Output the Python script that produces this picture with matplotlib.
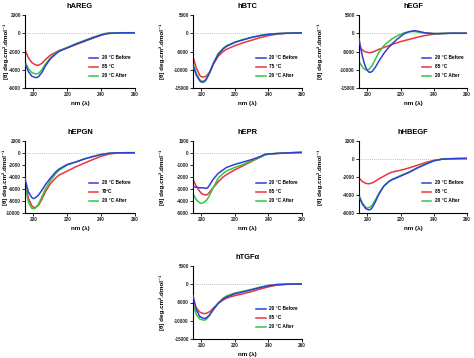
import matplotlib
matplotlib.use("Agg")
import matplotlib.pyplot as plt

plt.rcParams['font.family'] = ['Liberation Sans', 'DejaVu Sans']
plt.rcParams['font.weight'] = 'bold'
plt.rcParams['axes.unicode_minus'] = False

BLUE = '#2f3fd6'
RED = '#e8353c'
GREEN = '#33c63f'

# ---------------- data ----------------
areg_x = [195, 197, 199, 201, 202, 203, 205, 207, 210, 213, 215, 220, 225, 230, 235, 240, 243, 245, 250, 255, 260]
areg_before = [-3300, -4200, -4700, -4850, -4850, -4750, -4300, -3600, -2800, -2300, -2000, -1600, -1200, -850, -500, -200, -50, 0, 30, 50, 50]
areg_heat = [-1800, -2700, -3200, -3450, -3500, -3500, -3300, -2900, -2400, -2100, -1900, -1600, -1250, -900, -550, -200, -60, -20, 30, 50, 50]
areg_after = [-3100, -3900, -4300, -4450, -4450, -4400, -4000, -3400, -2700, -2200, -1950, -1550, -1150, -800, -450, -150, 0, 20, 50, 60, 60]

btc_x = [195, 197, 199, 200, 201, 202, 203, 205, 207, 210, 213, 215, 220, 225, 230, 235, 240, 245, 250, 255, 260]
btc_before = [-8800, -11500, -13000, -13400, -13400, -13200, -12600, -10800, -8500, -5800, -4300, -3600, -2500, -1800, -1150, -650, -300, -100, 0, 50, 100]
btc_heat = [-6500, -9500, -11500, -11900, -12000, -11900, -11700, -10500, -8600, -6300, -5000, -4400, -3400, -2600, -1900, -1200, -650, -250, -50, 50, 100]
btc_after = [-8300, -11000, -12700, -13100, -13100, -12900, -12400, -10600, -8300, -5600, -4100, -3400, -2400, -1700, -1100, -600, -280, -90, 0, 50, 100]

egf_x = [195, 196, 197, 198, 199, 200, 201, 202, 203, 205, 207, 210, 213, 215, 218, 220, 222, 225, 228, 230, 233, 235, 240, 245, 250, 255, 260]
egf_before = [-1500, -4000, -6200, -8000, -9300, -10200, -10650, -10700, -10400, -9200, -7600, -5500, -3800, -2900, -1600, -900, -200, 400, 700, 600, 300, 100, -100, -100, 0, 0, 0]
egf_heat = [-3500, -4100, -4600, -4900, -5100, -5250, -5300, -5300, -5200, -4800, -4400, -3900, -3400, -3000, -2600, -2300, -2050, -1700, -1350, -1100, -800, -600, -250, -50, 0, 0, 0]
egf_after = [-7600, -8500, -9200, -9700, -10000, -10100, -9900, -9400, -8800, -7000, -5200, -3400, -2200, -1500, -700, -300, 100, 400, 500, 350, 150, 50, -50, -50, 0, 0, 0]

epgn_x = [195, 197, 199, 200, 201, 203, 205, 207, 210, 213, 215, 220, 225, 230, 235, 240, 245, 250, 255, 260]
epgn_before = [-4300, -6500, -7400, -7600, -7500, -7000, -6200, -5300, -4200, -3200, -2700, -1900, -1500, -1000, -600, -250, -30, 30, 50, 50]
epgn_heat = [-4600, -7500, -8800, -9050, -9100, -8700, -7700, -6500, -5100, -4200, -3700, -3000, -2300, -1700, -1100, -550, -150, 0, 30, 50]
epgn_after = [-5200, -8200, -9200, -9300, -9200, -8500, -7300, -6000, -4600, -3500, -2900, -2000, -1500, -1000, -600, -250, -30, 30, 50, 50]

epr_x = [195, 197, 199, 200, 201, 203, 204, 205, 207, 210, 213, 215, 220, 225, 230, 235, 238, 240, 245, 250, 255, 260]
epr_before = [-2800, -2850, -2900, -2900, -2900, -2950, -2850, -2650, -2200, -1700, -1400, -1200, -950, -750, -550, -300, -100, -80, -30, 0, 30, 50]
epr_heat = [-2200, -2800, -3200, -3350, -3450, -3500, -3400, -3250, -2900, -2400, -2000, -1800, -1400, -1050, -700, -350, -150, -100, -40, 0, 30, 50]
epr_after = [-3400, -3900, -4150, -4200, -4150, -3950, -3750, -3500, -2900, -2100, -1700, -1500, -1200, -950, -650, -350, -150, -100, -40, 0, 30, 50]

hbegf_x = [195, 197, 199, 200, 201, 202, 203, 205, 207, 210, 213, 215, 220, 225, 230, 235, 240, 245, 250, 255, 260]
hbegf_before = [-4200, -5000, -5500, -5600, -5650, -5600, -5400, -4700, -3900, -3000, -2500, -2300, -1900, -1500, -1000, -600, -200, -20, 30, 50, 60]
hbegf_heat = [-2100, -2500, -2700, -2740, -2750, -2700, -2650, -2450, -2200, -1900, -1600, -1450, -1250, -1000, -700, -400, -150, -20, 30, 50, 60]
hbegf_after = [-4000, -4900, -5350, -5450, -5400, -5300, -5100, -4500, -3800, -3000, -2500, -2250, -1850, -1450, -1000, -550, -200, -20, 30, 50, 60]

tgf_x = [195, 197, 199, 201, 202, 203, 205, 207, 210, 213, 215, 220, 225, 230, 235, 240, 245, 250, 255, 260]
tgf_before = [-3100, -7000, -8800, -9300, -9350, -9200, -8300, -7000, -5300, -4000, -3500, -2600, -2100, -1500, -900, -400, -100, 0, 50, 100]
tgf_heat = [-4500, -6500, -7600, -8000, -8050, -7950, -7500, -6600, -5200, -4300, -3800, -3100, -2600, -2000, -1300, -700, -250, -50, 50, 100]
tgf_after = [-5500, -8300, -9500, -9800, -9800, -9600, -8500, -7000, -5100, -3800, -3200, -2400, -1900, -1400, -800, -300, -50, 0, 50, 100]

x_ticks = [200, 220, 240, 260]

panels = [
    # title, x, before, heat, after, heat label, ylim(top,bottom), yticks, rect, ylabel right edge (px)
    ('hAREG', areg_x, areg_before, areg_heat, areg_after, '85 °C', (2000, -6000), [2000, 0, -2000, -4000, -6000], (25, 15, 110, 73), 9),
    ('hBTC', btc_x, btc_before, btc_heat, btc_after, '75 °C', (5000, -15000), [5000, 0, -5000, -10000, -15000], (193, 15, 109, 73), 165),
    ('hEGF', egf_x, egf_before, egf_heat, egf_after, '85 °C', (5000, -15000), [5000, 0, -5000, -10000, -15000], (359, 15, 108, 73), 323),
    ('hEPGN', epgn_x, epgn_before, epgn_heat, epgn_after, '70ºC', (2000, -10000), [2000, 0, -2000, -4000, -6000, -8000, -10000], (25, 141, 110, 72), 8.5),
    ('hEPR', epr_x, epr_before, epr_heat, epr_after, '85 °C', (1000, -5000), [1000, 0, -1000, -2000, -3000, -4000, -5000], (193, 141, 109, 72), 165),
    ('hHBEGF', hbegf_x, hbegf_before, hbegf_heat, hbegf_after, '85 °C', (2000, -6000), [2000, 0, -2000, -4000, -6000], (359, 141, 108, 72), 323),
    ('hTGFα', tgf_x, tgf_before, tgf_heat, tgf_after, '85 °C', (5000, -15000), [5000, 0, -5000, -10000, -15000], (193, 266, 109, 73), 165),
]

W, H = 474, 358
fig = plt.figure(figsize=(W / 100, H / 100), dpi=100)

for title, x, before, heat, after, hl, ylim, yt, (l, t, w, h), ylx in panels:
    ax = fig.add_axes([l / W, 1 - (t + h) / H, w / W, h / H])
    ax.axhline(0, color='#aaaaaa', lw=0.6, ls=(0, (1, 1.5)), zorder=1)
    ax.plot(x, before, color=BLUE, lw=1.1, label='20 °C Before', zorder=3)
    ax.plot(x, heat, color=RED, lw=1.1, label=hl, zorder=2)
    ax.plot(x, after, color=GREEN, lw=1.1, label='20 °C After', zorder=2.5)
    ax.set_xlim(195, 260)
    ax.set_ylim(ylim[1], ylim[0])
    ax.set_xticks(x_ticks)
    ax.set_yticks(yt)
    for s in ('top', 'right'):
        ax.spines[s].set_visible(False)
    for s in ('left', 'bottom'):
        ax.spines[s].set_linewidth(0.8)
    ax.tick_params(axis='both', direction='out', length=2, width=0.6, labelsize=3.3, pad=1,
                   labelcolor='#222222')
    for lab in ax.get_xticklabels() + ax.get_yticklabels():
        lab.set_fontweight('bold')
    ax.set_title(title, fontsize=5.4, fontweight='bold', pad=5)
    ax.set_xlabel('nm (λ)', fontsize=4.5, fontweight='bold', labelpad=3)
    ax.set_ylabel('[θ] deg.cm².dmol⁻¹', fontsize=4.5, fontweight='bold')
    ax.yaxis.set_label_coords((ylx - l) / w, 0.5)
    ax.legend(loc='lower left', bbox_to_anchor=(0.56, 0.1), frameon=False, fontsize=3.4,
              handlelength=2.0, handletextpad=0.7, labelspacing=0.85, borderpad=0)

fig.savefig('out.png', dpi=100)
